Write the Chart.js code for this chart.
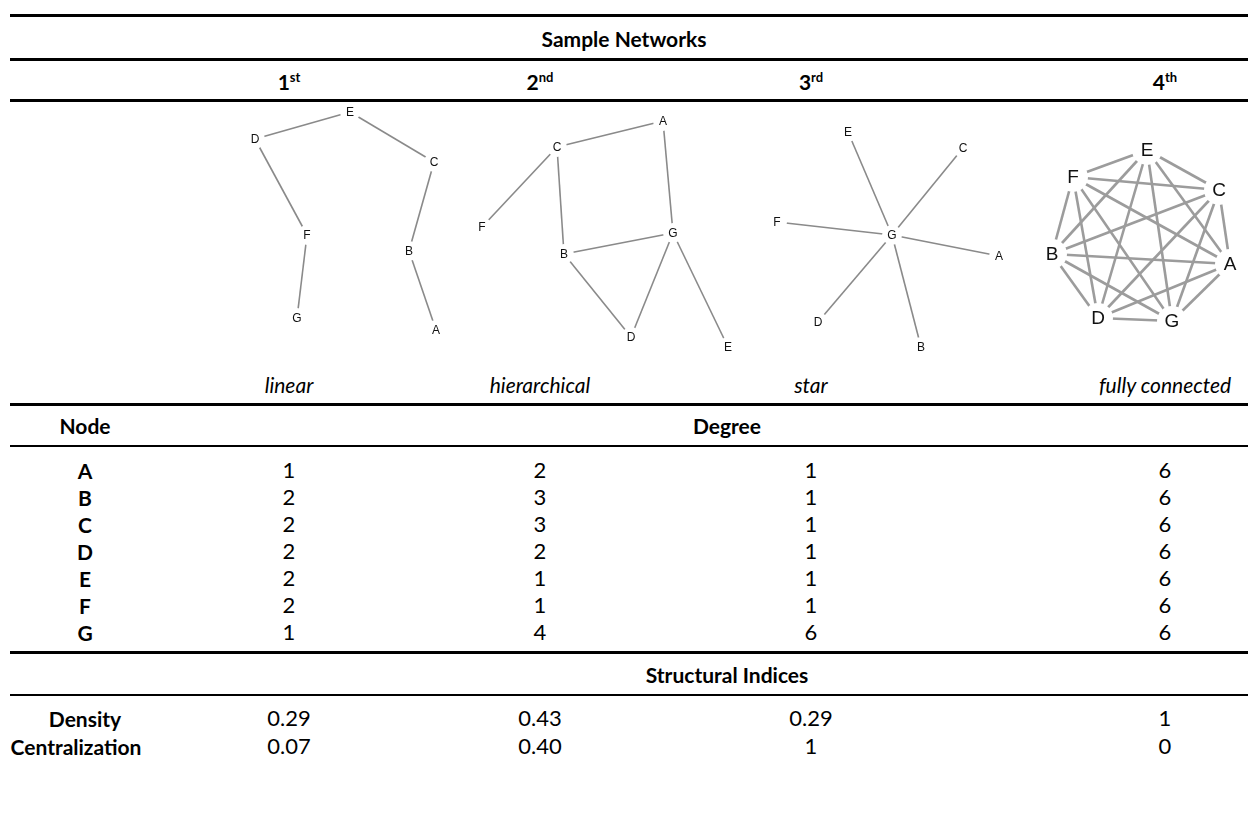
<!DOCTYPE html>
<html>
<head>
<meta charset="utf-8">
<script src="https://cdn.jsdelivr.net/npm/chart.js@4.4.1/dist/chart.umd.min.js"></script>
<style>
  html, body { margin: 0; padding: 0; background: #fff; }
  #page { position: relative; width: 1248px; height: 840px; overflow: hidden; font-family: Lato, "Noto Sans", sans-serif; color: #000; }
  .rule { position: absolute; left: 10px; right: 0; background: #000; }
  .cell { position: absolute; white-space: nowrap; transform: translate(-50%, -50%); font-size: 22px; line-height: 1; }
  .b { font-weight: bold; font-size: 21px; }
  .i { font-style: italic; font-size: 21px; }
  sup { font-size: 13px; vertical-align: 8px; line-height: 0; }
  canvas { position: absolute; }
</style>
</head>
<body>
<div id="page"></div>
<script>
// tabela - podaci
const ordinals = ["1", "2", "3", "4"];
const ordinalSuffix = ["st", "nd", "rd", "th"];
const networkTypes = ["linear", "hierarchical", "star", "fully connected"];
const nodeNames = ["A", "B", "C", "D", "E", "F", "G"];
const degreeLinear = [1, 2, 2, 2, 2, 2, 1];
const degreeHierarchical = [2, 3, 3, 2, 1, 1, 4];
const degreeStar = [1, 1, 1, 1, 1, 1, 6];
const degreeFull = [6, 6, 6, 6, 6, 6, 6];
const density = ["0.29", "0.43", "0.29", "1"];
const centralization = ["0.07", "0.40", "1", "0"];

// mreze - raspored cvorova (ocitano sa slike, lokalne jedinice)
const linearNodes = { A: [216, 230], B: [189, 151], C: [214, 62], D: [35, 39], E: [130, 12], F: [87, 135], G: [77, 218] };
const linearEdges = [["D", "E"], ["E", "C"], ["C", "B"], ["B", "A"], ["D", "F"], ["F", "G"]];

const hierNodes = { A: [198, 21], B: [99, 154], C: [92, 47], D: [166, 237], E: [263, 247], F: [17, 127], G: [208, 133] };
const hierEdges = [["C", "A"], ["C", "F"], ["C", "B"], ["A", "G"], ["B", "G"], ["B", "D"], ["G", "D"], ["G", "E"]];

const starNodes = { A: [239, 156], B: [161, 247], C: [203, 48], D: [58, 222], E: [88, 32], F: [17, 122], G: [132, 135] };
const starEdges = [["G", "A"], ["G", "B"], ["G", "C"], ["G", "D"], ["G", "E"], ["G", "F"]];

const fullNodes = { A: [200, 164], B: [22, 154], C: [189, 90], D: [68, 218], E: [117, 50], F: [43, 77], G: [142, 221] };
const fullEdges = [];
nodeNames.forEach((a, i) => nodeNames.slice(i + 1).forEach(b => fullEdges.push([a, b])));

const page = document.getElementById("page");

// horizontalne linije
[[14, 3], [58, 3], [99, 3], [403, 3], [445, 2], [651, 3], [694, 2]].forEach(([top, h]) => {
    const d = document.createElement("div");
    d.className = "rule";
    d.style.top = top + "px";
    d.style.height = h + "px";
    page.appendChild(d);
});

function tekst(html, x, y, cls) {
    const d = document.createElement("div");
    d.className = "cell " + (cls || "");
    d.style.left = x + "px";
    d.style.top = y + "px";
    d.innerHTML = html;
    page.appendChild(d);
}

const colX = [289, 540, 811, 1165];
const firstColX = 85;

tekst("Sample Networks", 624, 38, "b");
ordinals.forEach((o, i) => tekst(`${o}<sup>${ordinalSuffix[i]}</sup>`, colX[i], 81, "b"));
networkTypes.forEach((t, i) => tekst(t, colX[i], 384, "i"));
tekst("Node", firstColX, 425, "b");
tekst("Degree", 727, 425, "b");

const degrees = [degreeLinear, degreeHierarchical, degreeStar, degreeFull];
nodeNames.forEach((n, r) => {
    const y = 470 + r * 27;
    tekst(n, firstColX, y, "b");
    degrees.forEach((col, c) => tekst(String(col[r]), colX[c], y));
});

tekst("Structural Indices", 727, 674, "b");
tekst("Density", firstColX, 718, "b");
tekst("Centralization", firstColX - 9, 746, "b");
density.forEach((v, c) => tekst(v, colX[c], 718));
centralization.forEach((v, c) => tekst(v, colX[c], 746));

// plugin za oznake cvorova
const nodeLabelPlugin = {
    id: "nodeLabels",
    afterDatasetsDraw(chart) {
        const ctx = chart.ctx;
        chart.data.datasets.forEach((ds, i) => {
            if (!ds.nodeLabels) return;
            const meta = chart.getDatasetMeta(i);
            ctx.save();
            ctx.font = ds.labelFont;
            ctx.textAlign = "center";
            ctx.textBaseline = "middle";
            meta.data.forEach((pt, j) => {
                ctx.fillStyle = "#fff";
                ctx.beginPath();
                ctx.arc(pt.x, pt.y, ds.gap, 0, Math.PI * 2);
                ctx.fill();
                ctx.fillStyle = "#111";
                ctx.fillText(ds.nodeLabels[j], pt.x, pt.y + 1);
            });
            ctx.restore();
        });
    }
};

function nacrtajMrezu(left, width, nodes, edges, stil) {
    const canvas = document.createElement("canvas");
    canvas.width = width;
    canvas.height = 260;
    canvas.style.left = left + "px";
    canvas.style.top = "100px";
    canvas.style.width = width + "px";
    canvas.style.height = "260px";
    page.appendChild(canvas);

    const pt = n => ({ x: nodes[n][0], y: nodes[n][1] });
    const datasets = edges.map(([a, b]) => ({
        data: [pt(a), pt(b)],
        showLine: true,
        borderColor: stil.color,
        borderWidth: stil.lineWidth,
        pointRadius: 0
    }));
    const names = Object.keys(nodes);
    datasets.push({
        data: names.map(pt),
        pointRadius: 0,
        nodeLabels: names,
        labelFont: stil.font,
        gap: stil.gap
    });

    new Chart(canvas.getContext("2d"), {
        type: "scatter",
        data: { datasets: datasets },
        options: {
            responsive: false,
            animation: false,
            events: [],
            layout: { padding: 0 },
            plugins: { legend: { display: false }, tooltip: { enabled: false } },
            scales: {
                x: { type: "linear", min: 0, max: width, display: false },
                y: { type: "linear", min: 0, max: 260, reverse: true, display: false }
            }
        },
        plugins: [nodeLabelPlugin]
    });
}

const maliStil = { color: "#8a8a8a", lineWidth: 1.6, font: "12px 'Liberation Sans', Arial, sans-serif", gap: 10 };
const velikiStil = { color: "#9c9c9c", lineWidth: 2.6, font: "19px 'Liberation Sans', Arial, sans-serif", gap: 15 };

nacrtajMrezu(220, 250, linearNodes, linearEdges, maliStil);
nacrtajMrezu(465, 275, hierNodes, hierEdges, maliStil);
nacrtajMrezu(760, 250, starNodes, starEdges, maliStil);
nacrtajMrezu(1030, 218, fullNodes, fullEdges, velikiStil);
</script>
</body>
</html>
